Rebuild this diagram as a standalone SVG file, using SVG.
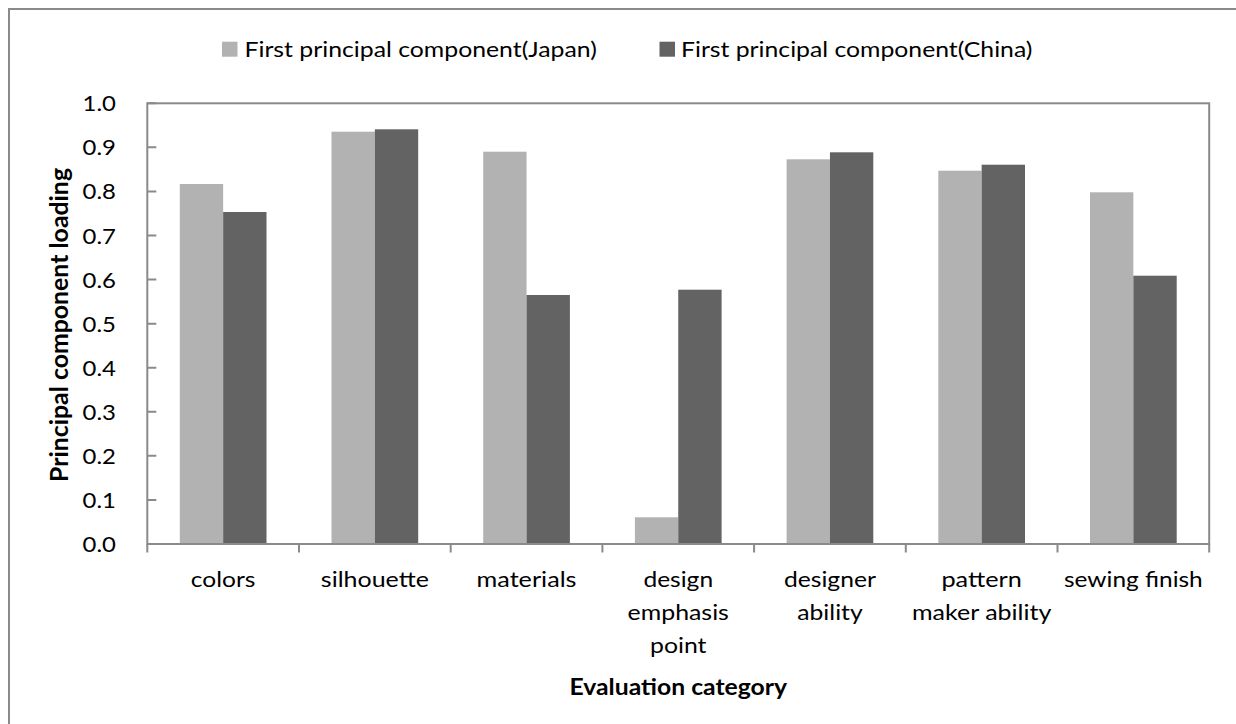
<svg xmlns="http://www.w3.org/2000/svg" width="1236" height="724" viewBox="0 0 1236 724">
<style>
.t{font-family:Lato,"Liberation Sans",sans-serif;font-size:22px;fill:#000}
.b{font-weight:bold}
.ax{stroke:#8a8a8a;stroke-width:2;fill:none}
.j{fill:#b2b2b2}
.c{fill:#636363}
</style>
<rect width="1236" height="724" fill="#fff"/>
<path class="ax" d="M9,730 V9 H1240"/>
<g id="bars">
<rect class="j" x="179.8" y="184" width="43.35" height="360"/>
<rect class="c" x="223.15" y="212" width="43.35" height="332"/>
<rect class="j" x="331.5" y="131.7" width="43.35" height="412.3"/>
<rect class="c" x="374.85" y="129.3" width="43.35" height="414.7"/>
<rect class="j" x="483.2" y="151.7" width="43.35" height="392.3"/>
<rect class="c" x="526.55" y="295" width="43.35" height="249"/>
<rect class="j" x="634.9" y="517.3" width="43.35" height="26.7"/>
<rect class="c" x="678.25" y="289.7" width="43.35" height="254.3"/>
<rect class="j" x="786.6" y="159.3" width="43.35" height="384.7"/>
<rect class="c" x="829.95" y="152.3" width="43.35" height="391.7"/>
<rect class="j" x="938.3" y="170.7" width="43.35" height="373.3"/>
<rect class="c" x="981.65" y="164.7" width="43.35" height="379.3"/>
<rect class="j" x="1090" y="192.3" width="43.35" height="351.7"/>
<rect class="c" x="1133.35" y="275.7" width="43.35" height="268.3"/>
</g>
<g id="axes">
<rect class="ax" x="147.3" y="103.3" width="1061.9" height="440.7"/>
<path class="ax" d="M147.3,499.93h9M147.3,455.86h9M147.3,411.79h9M147.3,367.72h9M147.3,323.65h9M147.3,279.58h9M147.3,235.51h9M147.3,191.44h9M147.3,147.37h9M147.3,103.3h9"/>
<path class="ax" d="M147.3,544v8.5M299,544v8.5M450.7,544v8.5M602.4,544v8.5M754.1,544v8.5M905.8,544v8.5M1057.5,544v8.5M1209.2,544v8.5"/>
</g>
<g id="yticks" class="t" text-anchor="end">
<text x="116" y="111.3" textLength="33.4" lengthAdjust="spacingAndGlyphs">1.0</text>
<text x="116" y="155.4" textLength="33.4" lengthAdjust="spacingAndGlyphs">0.9</text>
<text x="116" y="199.4" textLength="33.4" lengthAdjust="spacingAndGlyphs">0.8</text>
<text x="116" y="243.5" textLength="33.4" lengthAdjust="spacingAndGlyphs">0.7</text>
<text x="116" y="287.6" textLength="33.4" lengthAdjust="spacingAndGlyphs">0.6</text>
<text x="116" y="331.7" textLength="33.4" lengthAdjust="spacingAndGlyphs">0.5</text>
<text x="116" y="375.7" textLength="33.4" lengthAdjust="spacingAndGlyphs">0.4</text>
<text x="116" y="419.8" textLength="33.4" lengthAdjust="spacingAndGlyphs">0.3</text>
<text x="116" y="463.9" textLength="33.4" lengthAdjust="spacingAndGlyphs">0.2</text>
<text x="116" y="507.9" textLength="33.4" lengthAdjust="spacingAndGlyphs">0.1</text>
<text x="116" y="552" textLength="33.4" lengthAdjust="spacingAndGlyphs">0.0</text>
</g>
<g id="xlabels" class="t" text-anchor="middle">
<text x="223.15" y="587" textLength="64.6" lengthAdjust="spacingAndGlyphs">colors</text>
<text x="374.85" y="587" textLength="108" lengthAdjust="spacingAndGlyphs">silhouette</text>
<text x="526.55" y="587" textLength="100" lengthAdjust="spacingAndGlyphs">materials</text>
<text x="678.25" y="587" textLength="69.7" lengthAdjust="spacingAndGlyphs">design</text>
<text x="678.25" y="620" textLength="101.3" lengthAdjust="spacingAndGlyphs">emphasis</text>
<text x="678.25" y="652.5" textLength="56.5" lengthAdjust="spacingAndGlyphs">point</text>
<text x="829.95" y="587" textLength="92" lengthAdjust="spacingAndGlyphs">designer</text>
<text x="829.95" y="620" textLength="65.4" lengthAdjust="spacingAndGlyphs">ability</text>
<text x="981.65" y="587" textLength="80.4" lengthAdjust="spacingAndGlyphs">pattern</text>
<text x="981.65" y="620" textLength="139.5" lengthAdjust="spacingAndGlyphs">maker ability</text>
<text x="1133.35" y="587" textLength="138.8" lengthAdjust="spacingAndGlyphs">sewing finish</text>
</g>
<g id="xtitle">
<text class="t b" x="678.3" y="695" text-anchor="middle" textLength="217.5" lengthAdjust="spacingAndGlyphs">Evaluation category</text>
</g>
<g id="ytitle">
<text class="t b" transform="translate(68.3,325) rotate(-90)" x="0" y="0" text-anchor="middle" style="font-size:24px" textLength="314" lengthAdjust="spacingAndGlyphs">Principal component loading</text>
</g>
<g id="legend">
<rect class="j" x="222" y="41.7" width="15.5" height="15"/>
<text class="t" x="244.5" y="56.5" textLength="352.3" lengthAdjust="spacingAndGlyphs">First principal component(Japan)</text>
<rect class="c" x="659.5" y="41.7" width="15.5" height="15"/>
<text class="t" x="681" y="56.5" textLength="351.4" lengthAdjust="spacingAndGlyphs">First principal component(China)</text>
</g>
</svg>
